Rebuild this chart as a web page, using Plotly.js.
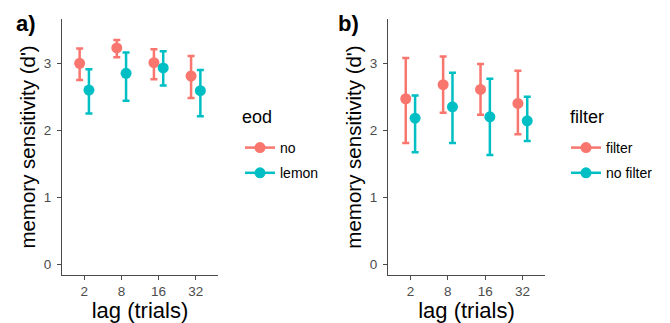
<!DOCTYPE html>
<html>
<head>
<meta charset="utf-8">
<script src="https://cdn.plot.ly/plotly-3.0.1.min.js"></script>
<style>html,body{margin:0;padding:0;background:#fff;}#chart{width:670px;height:323px;}</style>
</head>
<body>
<div id="chart"></div>
<script>
// Data
const lagLabels = ['2', '8', '16', '32'];

// Panel a: eod
const eodTitle = 'eod';
const eodNames = ['no', 'lemon'];
const eodNoMean  = [3.00, 3.23, 3.01, 2.81];
const eodNoLow   = [2.75, 3.09, 2.76, 2.48];
const eodNoHigh  = [3.22, 3.35, 3.21, 3.11];
const eodLemonMean = [2.60, 2.85, 2.93, 2.59];
const eodLemonLow  = [2.25, 2.44, 2.67, 2.21];
const eodLemonHigh = [2.91, 3.16, 3.18, 2.90];

// Panel b: filter
const filterTitle = 'filter';
const filterNames = ['filter', 'no filter'];
const filterMean  = [2.47, 2.68, 2.61, 2.40];
const filterLow   = [1.81, 2.26, 2.23, 1.94];
const filterHigh  = [3.08, 3.10, 2.99, 2.89];
const noFilterMean = [2.18, 2.35, 2.20, 2.14];
const noFilterLow  = [1.67, 1.81, 1.63, 1.84];
const noFilterHigh = [2.52, 2.86, 2.77, 2.50];

const RED = '#F8766D', TEAL = '#00BFC4';
const DODGE = 0.125;
const FONT = 'Liberation Sans, Arial, sans-serif';

function xs(shift) { return lagLabels.map((_, i) => i + 1 + shift); }

function series(mean, low, high, color, shift, xa, ya) {
  return {
    type: 'scatter', mode: 'markers',
    x: xs(shift), y: mean, xaxis: xa, yaxis: ya,
    marker: {color: color, size: 11},
    error_y: {
      type: 'data', symmetric: false,
      array: mean.map((m, i) => high[i] - m),
      arrayminus: mean.map((m, i) => m - low[i]),
      color: color, thickness: 2.5, width: 3.5
    },
    showlegend: false, hoverinfo: 'skip'
  };
}
function legendItem(name, color, legend, xa, ya) {
  return {
    type: 'scatter', mode: 'lines+markers', name: name,
    x: [null], y: [null], xaxis: xa, yaxis: ya,
    marker: {color: color, size: 11},
    line: {color: color, width: 2.5},
    legend: legend, legendgroup: legend + name, showlegend: true
  };
}

const traces = [
  series(eodNoMean, eodNoLow, eodNoHigh, RED, -DODGE, 'x', 'y'),
  series(eodLemonMean, eodLemonLow, eodLemonHigh, TEAL, DODGE, 'x', 'y'),
  series(filterMean, filterLow, filterHigh, RED, -DODGE, 'x2', 'y2'),
  series(noFilterMean, noFilterLow, noFilterHigh, TEAL, DODGE, 'x2', 'y2'),
  legendItem(eodNames[0], RED, 'legend', 'x', 'y'),
  legendItem(eodNames[1], TEAL, 'legend', 'x', 'y'),
  legendItem(filterNames[0], RED, 'legend2', 'x2', 'y2'),
  legendItem(filterNames[1], TEAL, 'legend2', 'x2', 'y2')
];

const W = 670, H = 323;
function xAxis(d0, d1) {
  return {
    domain: [d0 / W, d1 / W], range: [0.4, 4.6],
    tickvals: [1, 2, 3, 4], ticktext: lagLabels,
    showline: true, linecolor: '#4a4a4a', linewidth: 1,
    ticks: 'outside', ticklen: 4, tickcolor: '#4a4a4a', tickwidth: 1,
    tickfont: {size: 13.5, color: '#4D4D4D', family: FONT},
    showgrid: false, zeroline: false, fixedrange: true,
    title: {text: 'lag (trials)', font: {size: 22, color: '#000', family: FONT}, standoff: 1}
  };
}
function yAxis(anchor) {
  return {
    domain: [(H - 275) / H, (H - 19) / H], range: [-0.164, 3.662],
    anchor: anchor,
    tickvals: [0, 1, 2, 3],
    showline: true, linecolor: '#4a4a4a', linewidth: 1,
    ticks: 'outside', ticklen: 4, tickcolor: '#4a4a4a', tickwidth: 1,
    ticklabelstandoff: 3,
    tickfont: {size: 13.5, color: '#4D4D4D', family: FONT},
    showgrid: false, zeroline: false, fixedrange: true,
    title: {text: "memory sensitivity (d')", font: {size: 20.5, color: '#000', family: FONT}, standoff: 2}
  };
}

const legendBase = (x) => ({
  x: x / W, xanchor: 'left', y: (H - 132) / H, yanchor: 'top',
  bgcolor: 'rgba(0,0,0,0)', font: {size: 14, color: '#000', family: FONT},
  tracegroupgap: 4
});
const label = (text, x, y, size) => ({
  text: text, x: x / W, y: (H - y) / H, xref: 'paper', yref: 'paper',
  xanchor: 'left', yanchor: 'middle', showarrow: false,
  font: {size: size, color: '#000', family: FONT}
});

const layout = {
  width: W, height: H,
  margin: {l: 0, r: 0, t: 0, b: 0},
  paper_bgcolor: '#fff', plot_bgcolor: '#fff',
  font: {family: FONT},
  xaxis: Object.assign(xAxis(62, 218), {anchor: 'y'}),
  yaxis: yAxis('x'),
  xaxis2: Object.assign(xAxis(388, 545), {anchor: 'y2'}),
  yaxis2: yAxis('x2'),
  legend: legendBase(240),
  legend2: legendBase(566),
  annotations: [
    label('<b>a)</b>', 14, 23, 22),
    label('<b>b)</b>', 336, 23, 22),
    label(eodTitle, 240, 117, 18),
    label(filterTitle, 568, 117, 18)
  ]
};

Plotly.newPlot('chart', traces, layout, {staticPlot: true, displayModeBar: false});
</script>
</body>
</html>
